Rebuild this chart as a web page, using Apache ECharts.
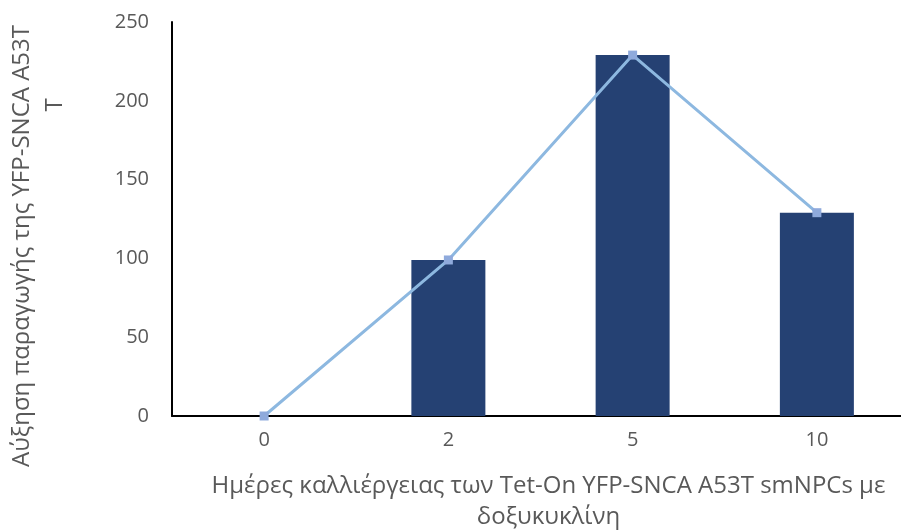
<!DOCTYPE html>
<html>
<head>
<meta charset="utf-8">
<script src="https://cdn.jsdelivr.net/npm/echarts@6/dist/echarts.min.js"></script>
<style>html,body{margin:0;padding:0;background:#fff}#c{width:901px;height:531px}</style>
</head>
<body>
<div id="c"></div>
<script>
const categories = ['0', '2', '5', '10'];
const barValues = [0, 99, 229, 129];
const lineValues = [0, 99, 229, 129];
const xTitle = 'Ημέρες καλλιέργειας των Tet-On YFP-SNCA A53T smNPCs με\nδοξυκυκλίνη';
const yTitleLine1 = 'Αύξηση παραγωγής της YFP-SNCA A53T';
const yTitleLine2 = 'T';

const FONT = 'Open Sans';
const TXT = '#595959';
const chart = echarts.init(document.getElementById('c'), null, {renderer: 'canvas'});
chart.setOption({
  animation: false,
  backgroundColor: '#ffffff',
  grid: {left: 172, top: 22, width: 737, height: 394, containLabel: false, outerBoundsMode: 'none'},
  xAxis: {
    type: 'category',
    data: categories,
    boundaryGap: true,
    axisLine: {show: true, lineStyle: {color: '#000', width: 2}},
    axisTick: {show: false},
    axisLabel: {color: TXT, fontFamily: FONT, fontSize: 20, margin: 14},
    name: xTitle,
    nameLocation: 'middle',
    nameGap: 55,
    nameTextStyle: {color: TXT, fontFamily: FONT, fontSize: 24, lineHeight: 31, padding: [0, 0, 0, 16]}
  },
  yAxis: {
    type: 'value',
    min: 0, max: 250, interval: 50,
    axisLine: {show: true, lineStyle: {color: '#000', width: 2}},
    axisTick: {show: false},
    splitLine: {show: false},
    axisLabel: {color: TXT, fontFamily: FONT, fontSize: 20, margin: 23}
  },
  graphic: [
    {type: 'text', x: 22, y: 246, rotation: Math.PI / 2,
     style: {text: yTitleLine1, fill: TXT, font: '24px "Open Sans"', align: 'center', verticalAlign: 'middle'}},
    {type: 'text', x: 55, y: 105, rotation: Math.PI / 2,
     style: {text: yTitleLine2, fill: TXT, font: '24px "Open Sans"', align: 'center', verticalAlign: 'middle'}}
  ],
  series: [
    {type: 'bar', data: barValues, barWidth: 74,
     itemStyle: {color: '#254173'}, z: 2},
    {type: 'line', data: lineValues, symbol: 'rect', symbolSize: 9,
     lineStyle: {color: '#8DB8E0', width: 3},
     itemStyle: {color: '#8FAADC'}, z: 3}
  ]
});
</script>
</body>
</html>
